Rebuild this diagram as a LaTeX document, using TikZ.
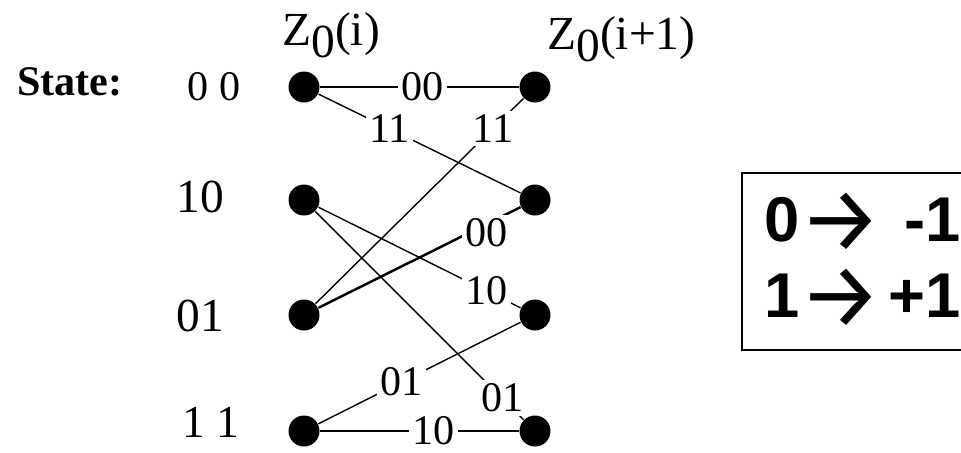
\documentclass[tikz,border=0pt]{standalone}
\usepackage{fontspec}
\usepackage{graphicx}
\setmainfont{Liberation Serif}
\newfontfamily\boxfont{Liberation Sans}
\newfontfamily\arrowfont{Fira Sans}
\usepackage{tikz}

\newcommand{\maparrow}{\raisebox{-0.10cm}{\scalebox{1.45}{\arrowfont\mdseries →}}}

\begin{document}
\begin{tikzpicture}[
    dot/.style={circle, fill=black, inner sep=0pt, minimum size=0.31cm},
    edge/.style={line width=0.4pt},
    lbl/.style={fill=white, inner sep=1pt, font=\fontsize{12}{14}\selectfont},
    st/.style={font=\fontsize{12}{14}\selectfont},
    hd/.style={anchor=base west, font=\fontsize{13.5}{16}\selectfont},
]
    \useasboundingbox (0,0) rectangle (9.61,-4.52);

    % states at time i and i+1
    \node[dot] (l00) at (3.04,-0.87) {};
    \node[dot] (l10) at (3.04,-2.00) {};
    \node[dot] (l01) at (3.04,-3.15) {};
    \node[dot] (l11) at (3.04,-4.31) {};
    \node[dot] (r00) at (5.35,-0.87) {};
    \node[dot] (r10) at (5.35,-2.00) {};
    \node[dot] (r01) at (5.35,-3.15) {};
    \node[dot] (r11) at (5.35,-4.31) {};

    \node[hd] (zi) at (2.70,-0.45) {Z\raisebox{-0.12cm}{0}(i)};
    \node[hd] (zj) at (5.35,-0.49) {Z\raisebox{-0.12cm}{0}(i+1)};

    \node[st, font=\fontsize{12}{14}\selectfont\bfseries] (state) at (0.70,-0.82) {State:};
    \node[st] (s00) at (2.14,-0.87) {0 0};
    \node[st, font=\fontsize{13.5}{16}\selectfont] (s10) at (2.00,-1.97) {10};
    \node[st, font=\fontsize{13.5}{16}\selectfont] (s01) at (2.00,-3.16) {01};
    \node[st, font=\fontsize{13}{15}\selectfont] (s11) at (2.11,-4.22) {1 1};

    % branches
    \draw[edge] (l00) -- node[lbl, pos=0.517] {00} (r00);
    \draw[edge] (l00) -- node[lbl, pos=0.352] {11} (r10);
    \draw[edge] (l10) -- node[lbl, pos=0.83] {10} (r01);
    \draw[edge] (l10) -- node[lbl, pos=0.897] {01} (r11);
    \draw[edge] (l01) -- node[lbl, pos=0.854] {11} (r00);
    \draw[edge, line width=0.7pt] (l01) -- node[lbl, pos=0.83, yshift=-0.08cm] {00} (r10);
    \draw[edge] (l11) -- node[lbl, pos=0.41] {01} (r01);
    \draw[edge] (l11) -- node[lbl, pos=0.57] {10} (r11);

    % mapping box
    \draw[line width=0.6pt] (7.42,-1.73) rectangle (9.95,-3.50);
    \node[anchor=west, inner sep=0pt, font=\boxfont\bfseries\fontsize{18}{21.8}\selectfont] (map) at (7.64,-2.64)
        {\begin{tabular}{@{}l@{\hspace{0.1em}}r@{}}0\maparrow & -1\\ 1\maparrow & +1\end{tabular}};
\end{tikzpicture}
\end{document}
